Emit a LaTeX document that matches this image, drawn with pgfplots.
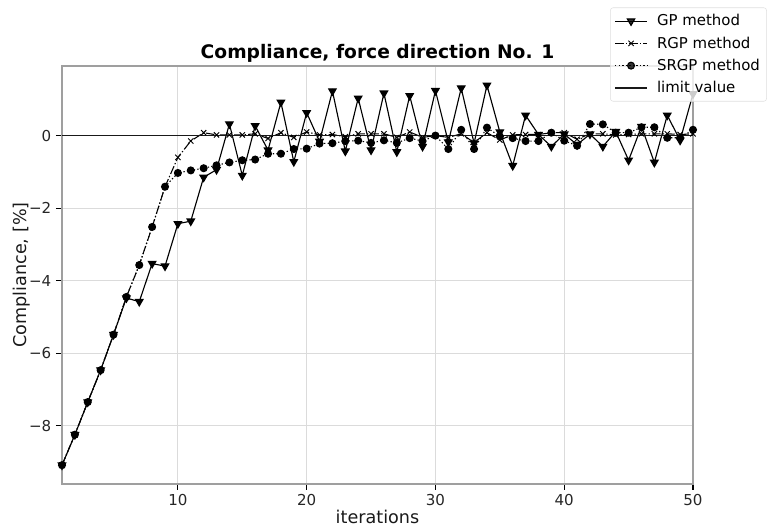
\documentclass[border=0pt]{standalone}
\usepackage{fontspec}
\setmainfont{DejaVu Sans}
\usepackage{pgfplots}
\pgfplotsset{compat=1.18}
\begin{document}
\begin{tikzpicture}
\begin{axis}[
  at={(0,0)}, anchor=south west,
  scale only axis, width=473.25pt, height=313.5pt,
  xmin=1, xmax=50, ymin=-9.61, ymax=1.92,
  xtick={10,20,30,40,50},
  ytick={-8,-6,-4,-2,0},
  yticklabels={−8,−6,−4,−2,0},
  /pgf/number format/assume math mode=true,
  grid=major, grid style={gray!28, line width=0.8pt},
  axis line style={gray!75, line width=0.8pt},
  tick style={black, line width=0.8pt},
  tick align=outside, major tick length=4.5pt,
  xtick pos=lower, ytick pos=left,
  ticklabel style={font=\fontsize{11.3}{13}\selectfont, text=black!85},
  title={\bfseries Compliance, force direction No. 1},
  title style={font=\fontsize{14}{16}\selectfont, at={(0.5,1)}, anchor=south, yshift=-7pt},
  xlabel={iterations},
  ylabel={Compliance, [\%]},
  label style={font=\fontsize{13.2}{15}\selectfont, text=black!90},
  xlabel style={yshift=4pt},
  ylabel style={yshift=-8pt},
  legend style={at={(1.117,1.140)}, anchor=north east,
    font=\fontsize{11.2}{13}\selectfont,
    draw=gray!25, rounded corners=2pt, fill=white, fill opacity=0.8, text opacity=1,
    row sep=2.7pt, inner xsep=3pt, inner ysep=3pt},
  legend cell align=left,
  legend image code/.code={%
    \draw[mark repeat=2,mark phase=2] plot coordinates {(0cm,0cm) (0.42cm,0cm) (0.84cm,0cm)};
    \path (0.84cm+5pt,0cm);},
]
\addplot[black, line width=0.85pt, mark=triangle*, mark size=3.2pt,
  mark options={solid, rotate=180}]
coordinates {(1,-9.09)(2,-8.25)(3,-7.35)(4,-6.47)(5,-5.49)(6,-4.48)(7,-4.58)(8,-3.53)(9,-3.60)(10,-2.43)(11,-2.36)(12,-1.15)(13,-0.94)(14,0.32)(15,-1.10)(16,0.27)(17,-0.40)(18,0.92)(19,-0.72)(20,0.63)(21,-0.16)(22,1.23)(23,-0.43)(24,1.03)(25,-0.40)(26,1.17)(27,-0.45)(28,1.10)(29,-0.30)(30,1.24)(31,-0.18)(32,1.31)(33,-0.21)(34,1.39)(35,0.10)(36,-0.83)(37,0.56)(38,0.03)(39,-0.30)(40,0.04)(41,-0.25)(42,0.04)(43,-0.30)(44,0.11)(45,-0.68)(46,0.25)(47,-0.74)(48,0.56)(49,-0.13)(50,1.15)};
\addlegendentry{GP method}
\addplot[black, line width=0.8pt, dash pattern=on 6.4pt off 1.6pt on 1pt off 1.6pt,
  mark=x, mark size=2.8pt, mark options={solid, line width=0.7pt}]
coordinates {(1,-9.09)(2,-8.25)(3,-7.35)(4,-6.47)(5,-5.49)(6,-4.45)(7,-3.57)(8,-2.52)(9,-1.41)(10,-0.60)(11,-0.15)(12,0.08)(13,0.02)(14,0.02)(15,0.02)(16,0.05)(17,-0.08)(18,0.08)(19,-0.05)(20,0.10)(21,0.02)(22,0.03)(23,-0.03)(24,0.05)(25,0.05)(26,0.05)(27,-0.05)(28,0.10)(29,-0.05)(30,0.00)(31,-0.05)(32,0.05)(33,-0.19)(34,0.08)(35,-0.12)(36,0.02)(37,0.03)(38,0.03)(39,0.08)(40,0.08)(41,-0.10)(42,0.05)(43,0.05)(44,0.02)(45,0.03)(46,0.05)(47,0.05)(48,0.05)(49,0.03)(50,0.05)};
\addlegendentry{RGP method}
\addplot[black, line width=0.8pt, dash pattern=on 1pt off 1.65pt,
  mark=*, mark size=2.6pt, mark options={solid}]
coordinates {(1,-9.09)(2,-8.25)(3,-7.35)(4,-6.47)(5,-5.49)(6,-4.45)(7,-3.57)(8,-2.52)(9,-1.41)(10,-1.03)(11,-0.96)(12,-0.90)(13,-0.82)(14,-0.74)(15,-0.68)(16,-0.66)(17,-0.50)(18,-0.50)(19,-0.37)(20,-0.36)(21,-0.22)(22,-0.21)(23,-0.15)(24,-0.14)(25,-0.20)(26,-0.13)(27,-0.20)(28,-0.07)(29,-0.15)(30,0.00)(31,-0.37)(32,0.16)(33,-0.37)(34,0.22)(35,-0.02)(36,-0.07)(37,-0.15)(38,-0.15)(39,0.08)(40,-0.14)(41,-0.28)(42,0.32)(43,0.31)(44,0.08)(45,0.08)(46,0.23)(47,0.23)(48,-0.06)(49,-0.06)(50,0.16)};
\addlegendentry{SRGP method}
\addplot[black!90, line width=1.1pt] coordinates {(1,0) (50,0)};
\addlegendentry{limit value}
\end{axis}
\pgfresetboundingbox
\path (-46.5pt,-33pt) rectangle (534.75pt,363pt);
\end{tikzpicture}
\end{document}
